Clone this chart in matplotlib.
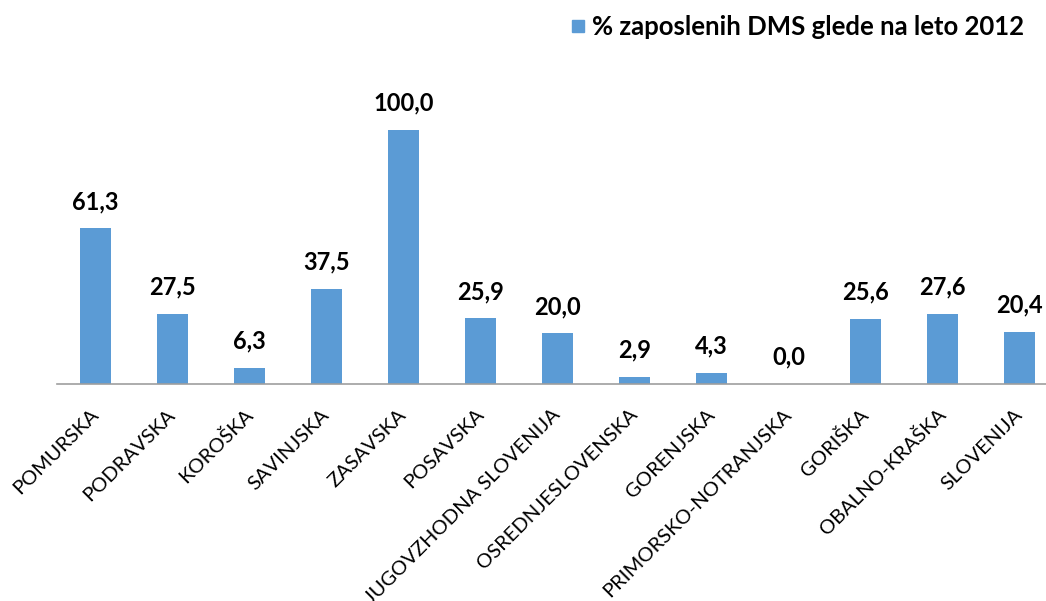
import matplotlib
matplotlib.use("Agg")
import matplotlib.pyplot as plt
from matplotlib.patches import Rectangle

plt.rcParams['font.family'] = ['Lato', 'DejaVu Sans']

regions = ["POMURSKA", "PODRAVSKA", "KOROŠKA", "SAVINJSKA", "ZASAVSKA", "POSAVSKA",
           "JUGOVZHODNA SLOVENIJA", "OSREDNJESLOVENSKA", "GORENJSKA",
           "PRIMORSKO-NOTRANJSKA", "GORIŠKA", "OBALNO-KRAŠKA", "SLOVENIJA"]
share = [61.3, 27.5, 6.3, 37.5, 100.0, 25.9, 20.0, 2.9, 4.3, 0.0, 25.6, 27.6, 20.4]
series_name = "% zaposlenih DMS glede na leto 2012"

bar_color = "#5B9BD5"
W, H = 1046, 601
fig = plt.figure(figsize=(W / 100, H / 100), dpi=100)

left, right = 57, 1046
bottom, top = 384, 130
ax = fig.add_axes([left / W, 1 - bottom / H, (right - left) / W, (bottom - top) / H])

x = range(len(regions))
bars = ax.bar(x, share, width=0.4, color=bar_color, zorder=2)
ax.set_xlim(-0.5, 12.34)
ax.set_ylim(0, 100)

for xi, v in zip(x, share):
    ax.annotate(f"{v:.1f}".replace(".", ","), (xi, v), xytext=(0, 11),
                textcoords="offset points", ha="center", va="bottom",
                fontsize=17, fontweight="bold", color="black", clip_on=False)

for s in ["left", "right", "top"]:
    ax.spines[s].set_visible(False)
ax.spines["bottom"].set_color("#9E9E9E")
ax.spines["bottom"].set_linewidth(1.2)
ax.set_yticks([])
ax.set_xticks(list(x))
ax.set_xticklabels(regions, rotation=45, ha="right", va="center",
                   rotation_mode="anchor", fontsize=14.5)
ax.tick_params(axis="x", length=0, pad=20)

# legend
lx, ly = 572, 20
fig.patches.append(Rectangle((lx / W, 1 - (ly + 12) / H), 12 / W, 12 / H,
                             transform=fig.transFigure, color=bar_color))
fig.text(592 / W, 1 - 27 / H, series_name, ha="left", va="center",
         fontsize=18.5, fontweight="bold")

fig.savefig("out.png", dpi=100)
